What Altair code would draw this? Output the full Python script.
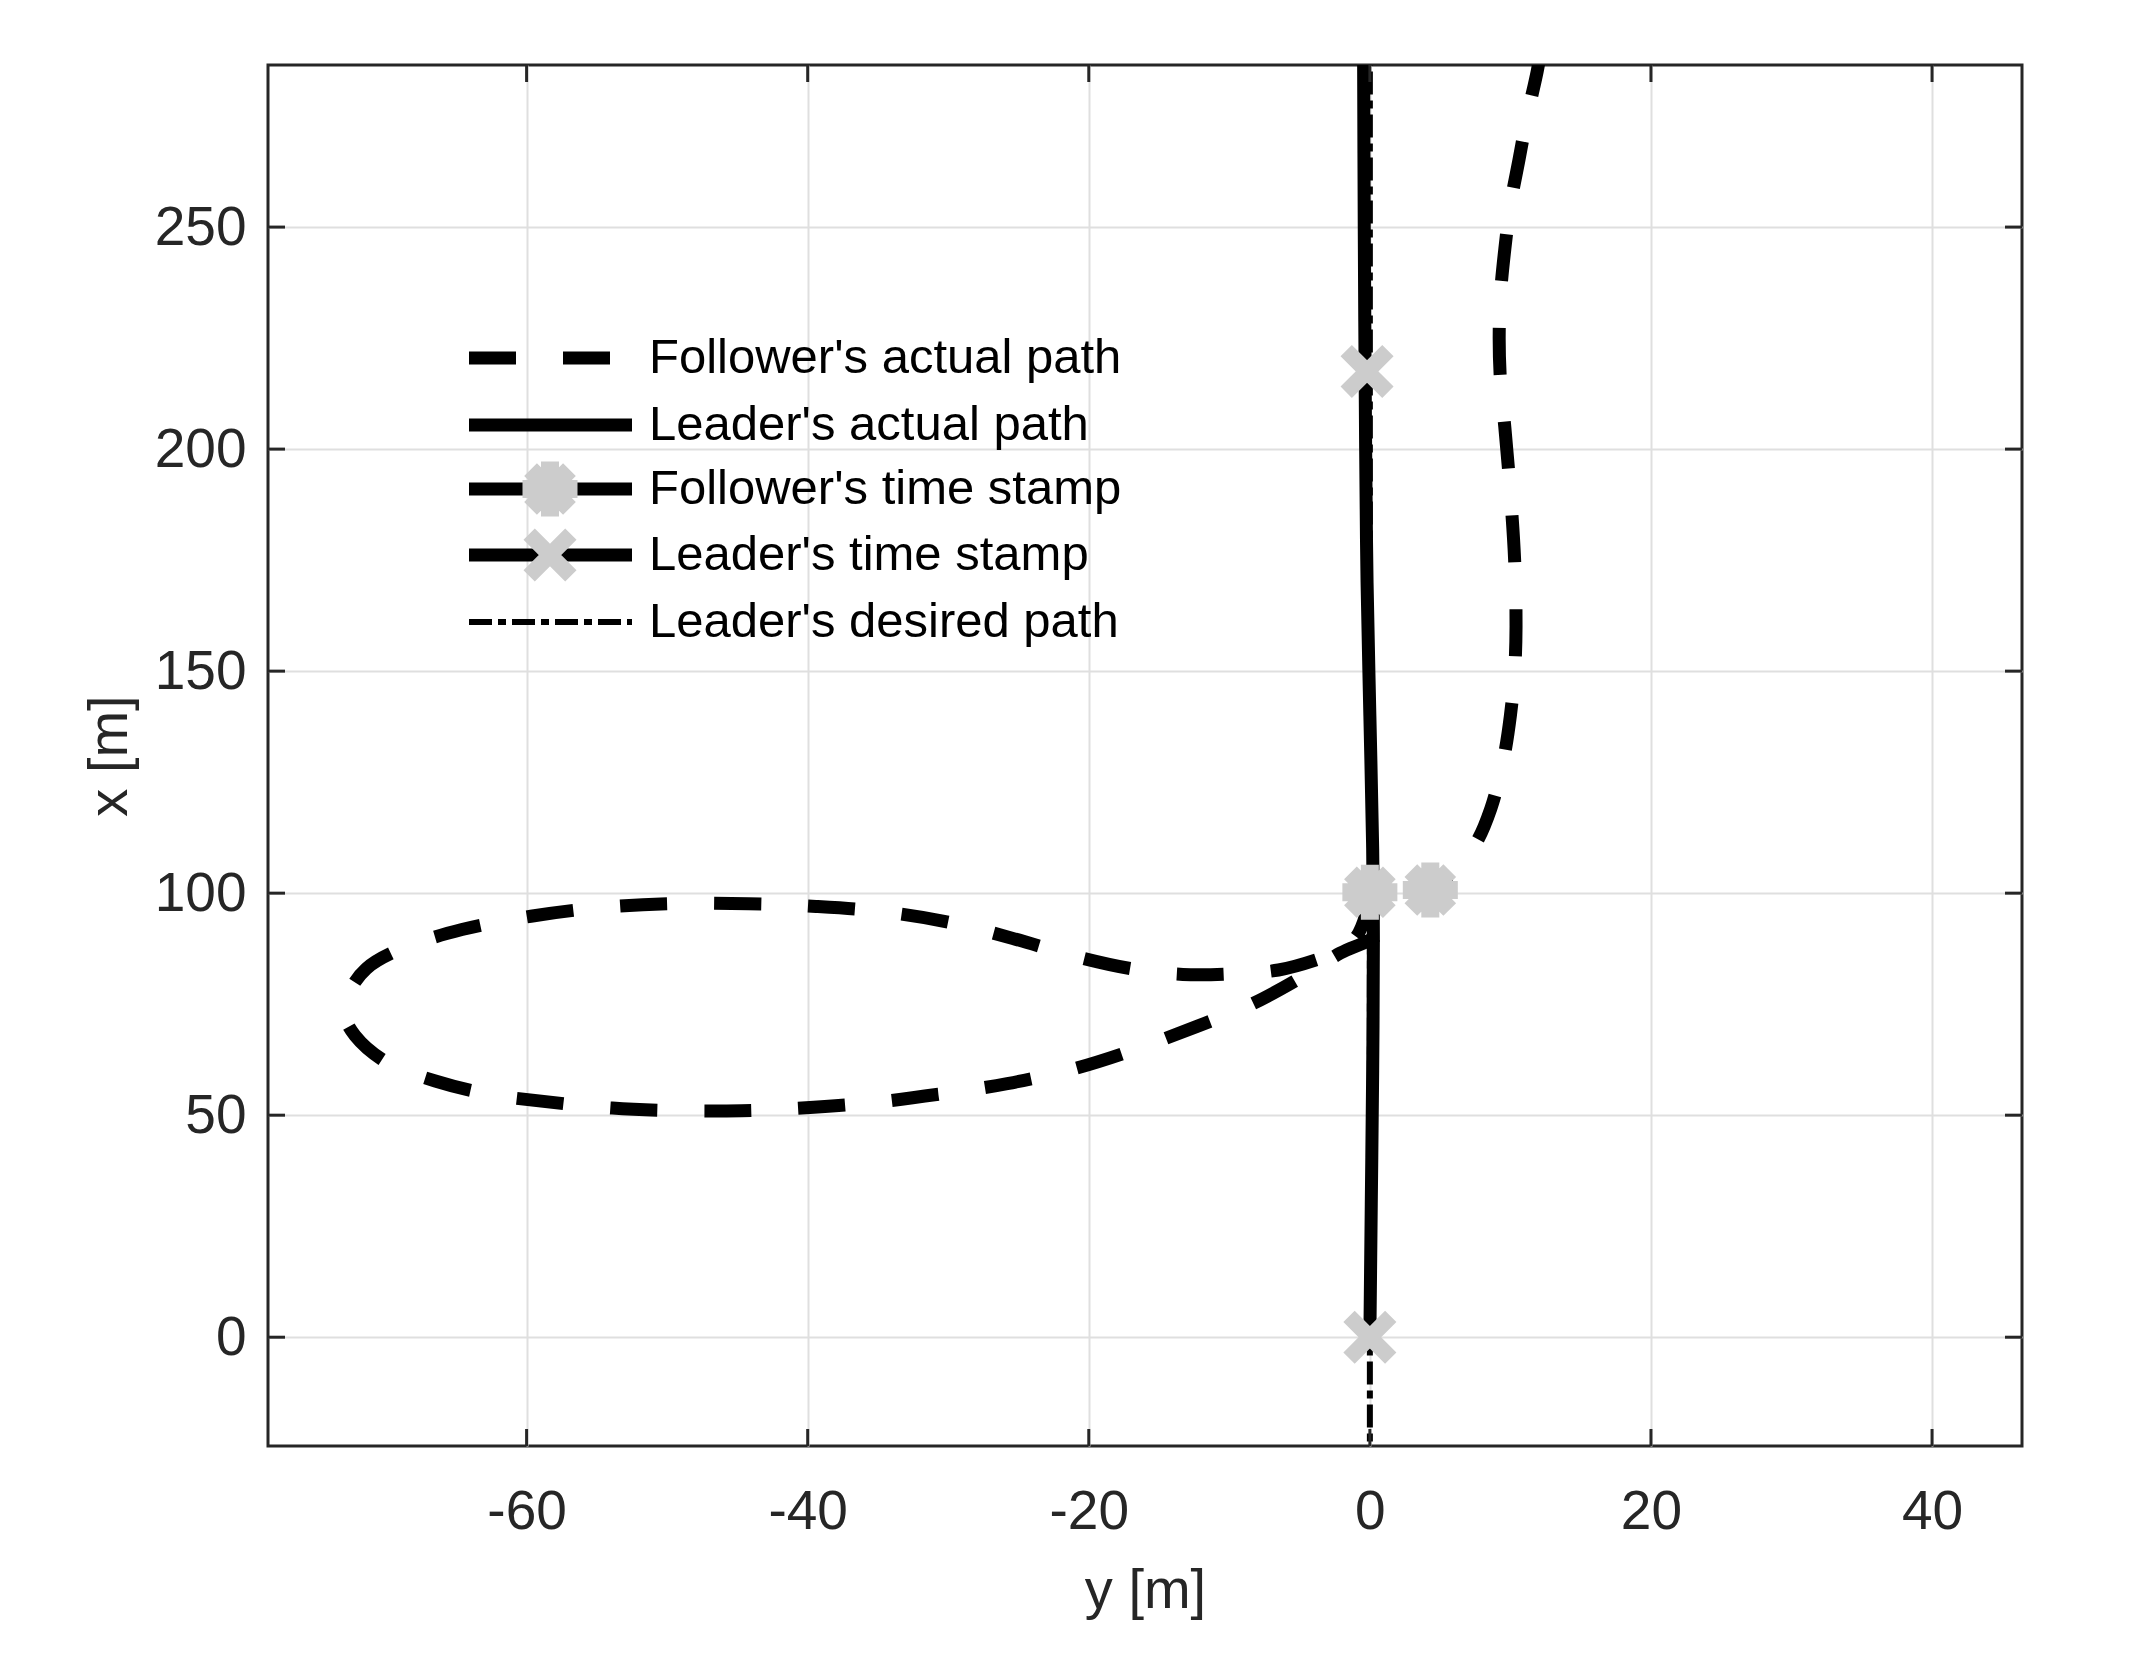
import altair as alt
import pandas as pd

# ---------------- data ----------------
follower_lat = [0.0, -0.3, -1.0, -2.2, -3.8, -6.5, -10.0, -13.3, -17.0, -21.0, -25.4, -29.7,
                -34.6, -39.4, -44.2, -50.0, -54.9, -59.7, -64.6, -68.9, -71.4, -72.6, -72.9,
                -72.2, -70.0, -66.5, -62.6, -58.8, -53.9, -49.1, -44.7, -40.4, -35.5, -30.7,
                -25.8, -21.0, -16.7, -12.3, -8.4, -5.0, -2.1, 0.0, 2.5, 4.4, 6.0, 7.5, 8.6,
                9.5, 10.0, 10.3, 10.4, 10.3, 10.0, 9.6, 9.3, 9.2, 9.3, 9.6, 10.0, 10.6, 11.2,
                11.9, 12.3]
follower_lon = [100.2, 95.0, 90.0, 87.0, 85.0, 82.7, 81.8, 81.7, 83.0, 85.8, 89.8, 93.3,
                95.8, 97.0, 97.6, 97.6, 96.7, 94.8, 91.8, 87.5, 83.0, 77.7, 72.2,
                67.9, 62.0, 57.7, 54.7, 53.1, 51.6, 51.0, 51.0, 51.6, 52.8, 54.7,
                57.1, 60.5, 64.8, 70.0, 75.0, 80.8, 86.5, 89.5, 95.0, 100.7, 105.0, 111.0, 119.0,
                130.0, 140.0, 150.0, 160.0, 175.0, 190.0, 205.0, 215.0, 225.0, 235.0, 245.0, 255.0, 265.0, 275.0,
                285.0, 292.0]

leader_lat = [0.0, 0.1, 0.2, 0.25, 0.2, 0.0, -0.2, -0.3, -0.4, -0.45]
leader_lon = [0.0, 30.0, 60.0, 90.0, 110.0, 140.0, 170.0, 200.0, 250.0, 292.0]

desired_lat = [0.0, 0.0]
desired_lon = [-30.0, 300.0]

follower_stamp_lat = [0.0, 4.3]
follower_stamp_lon = [100.2, 100.7]
leader_stamp_lat = [0.0, -0.2]
leader_stamp_lon = [0.0, 217.5]

x_ticks = [-60, -40, -20, 0, 20, 40]
y_ticks = [0, 50, 100, 150, 200, 250]
legend_labels = ["Follower's actual path", "Leader's actual path", "Follower's time stamp",
                 "Leader's time stamp", "Leader's desired path"]

# ---------------- styling / layout ----------------
W, H = 1754, 1381
X_DOMAIN = [-78.4, 46.4]
Y_DOMAIN = [-24.5, 286.5]
FONT = "Liberation Sans"
AX = "#262626"
GRID = "#dfdfdf"
GRAYM = "#cccccc"
STAR = "M-1,0L1,0M0,-1L0,1M-0.707,-0.707L0.707,0.707M-0.707,0.707L0.707,-0.707"
XSHAPE = "M-1,-1L1,1M-1,1L1,-1"
LW = 13
DASH = [47, 47]
DASHDOT = [23, 6, 8, 6]

xs = alt.Scale(domain=X_DOMAIN, nice=False, zero=False)
ys = alt.Scale(domain=Y_DOMAIN, nice=False, zero=False)

x_axis = alt.Axis(values=x_ticks, grid=True, gridColor=GRID, gridWidth=2, ticks=False, tickSize=0,
                  domain=False, labelFont=FONT, labelFontSize=55, labelColor=AX, labelPadding=39,
                  labelExpr="'' + datum.value", labelFlush=False, labelOverlap=False,
                  title="y [m]", titleFont=FONT, titleFontSize=56, titleFontWeight="normal",
                  titleColor=AX, titleX=W / 2, titleY=144, titleBaseline="middle", titleAlign="center")
y_axis = alt.Axis(values=y_ticks, grid=True, gridColor=GRID, gridWidth=2, ticks=False, tickSize=0,
                  domain=False, labelFont=FONT, labelFontSize=55, labelColor=AX, labelPadding=22,
                  labelExpr="'' + datum.value", labelFlush=False, labelOverlap=False,
                  title="x [m]", titleFont=FONT, titleFontSize=56, titleFontWeight="normal",
                  titleColor=AX, titleX=-159, titleY=H / 2, titleAngle=270,
                  titleBaseline="middle", titleAlign="center")


def ex():
    return alt.X("lat:Q", scale=xs, axis=x_axis)


def ey():
    return alt.Y("lon:Q", scale=ys, axis=y_axis)


fol = pd.DataFrame({"lat": follower_lat, "lon": follower_lon, "i": range(len(follower_lat))})
lea = pd.DataFrame({"lat": leader_lat, "lon": leader_lon, "i": range(len(leader_lat))})
des = pd.DataFrame({"lat": desired_lat, "lon": desired_lon, "i": range(len(desired_lat))})
fst = pd.DataFrame({"lat": follower_stamp_lat, "lon": follower_stamp_lon})
lst = pd.DataFrame({"lat": leader_stamp_lat, "lon": leader_stamp_lon})
xt = pd.DataFrame({"lat": x_ticks})
yt = pd.DataFrame({"lon": y_ticks})
one = pd.DataFrame({"a": [0]})

layers = []
layers.append(alt.Chart(fol).mark_line(color="black", strokeWidth=LW, strokeDash=DASH, clip=True,
                                       interpolate="catmull-rom")
              .encode(x=ex(), y=ey(), order="i:Q"))
layers.append(alt.Chart(lea).mark_line(color="black", strokeWidth=LW, clip=True,
                                       interpolate="catmull-rom")
              .encode(x=ex(), y=ey(), order="i:Q"))
layers.append(alt.Chart(des).mark_line(color="black", strokeWidth=6, strokeDash=DASHDOT, clip=True)
              .encode(x=ex(), y=ey(), order="i:Q"))
layers.append(alt.Chart(fst).mark_point(shape=STAR, size=3025, filled=False, color=GRAYM,
                                        strokeWidth=18, strokeCap="butt", opacity=1)
              .encode(x=ex(), y=ey()))
layers.append(alt.Chart(lst).mark_point(shape=XSHAPE, size=1740, filled=False, color=GRAYM,
                                        strokeWidth=16, strokeCap="butt", opacity=1)
              .encode(x=ex(), y=ey()))

# inward ticks on all four sides
TL = 17
layers.append(alt.Chart(xt).mark_rule(color=AX, strokeWidth=3)
              .encode(x=ex(), y=alt.value(H), y2=alt.value(H - TL)))
layers.append(alt.Chart(xt).mark_rule(color=AX, strokeWidth=3)
              .encode(x=ex(), y=alt.value(0), y2=alt.value(TL)))
layers.append(alt.Chart(yt).mark_rule(color=AX, strokeWidth=3)
              .encode(y=ey(), x=alt.value(0), x2=alt.value(TL)))
layers.append(alt.Chart(yt).mark_rule(color=AX, strokeWidth=3)
              .encode(y=ey(), x=alt.value(W), x2=alt.value(W - TL)))

# legend (drawn manually, no box)
row_y = [293, 360, 424, 490, 557]
LX0, LX1, LMID, TX = 201, 364, 282, 381
styles = [
    dict(strokeWidth=LW, strokeDash=DASH),
    dict(strokeWidth=LW),
    dict(strokeWidth=LW),
    dict(strokeWidth=LW),
    dict(strokeWidth=6, strokeDash=DASHDOT),
]
for k, (lab, yy, st) in enumerate(zip(legend_labels, row_y, styles)):
    layers.append(alt.Chart(one).mark_rule(color="black", **st)
                  .encode(x=alt.value(LX0), x2=alt.value(LX1), y=alt.value(yy)))
    if k == 2:
        layers.append(alt.Chart(one).mark_point(shape=STAR, size=3025, filled=False, color=GRAYM,
                                                strokeWidth=18, strokeCap="butt", opacity=1)
                      .encode(x=alt.value(LMID), y=alt.value(yy)))
    if k == 3:
        layers.append(alt.Chart(one).mark_point(shape=XSHAPE, size=1740, filled=False, color=GRAYM,
                                                strokeWidth=16, strokeCap="butt", opacity=1)
                      .encode(x=alt.value(LMID), y=alt.value(yy)))
    layers.append(alt.Chart(one).mark_text(align="left", baseline="middle", font=FONT, fontSize=49,
                                           color="black")
                  .encode(x=alt.value(TX), y=alt.value(yy), text=alt.value(lab)))

chart = (alt.layer(*layers)
         .properties(width=W, height=H, autosize=alt.AutoSizeParams(type="none"),
                     padding={"left": 260, "top": 57, "right": 100, "bottom": 190},
                     background="white")
         .configure_view(stroke=AX, strokeWidth=3))

chart.save("out.html", embed_options={"renderer": "svg", "actions": False})
